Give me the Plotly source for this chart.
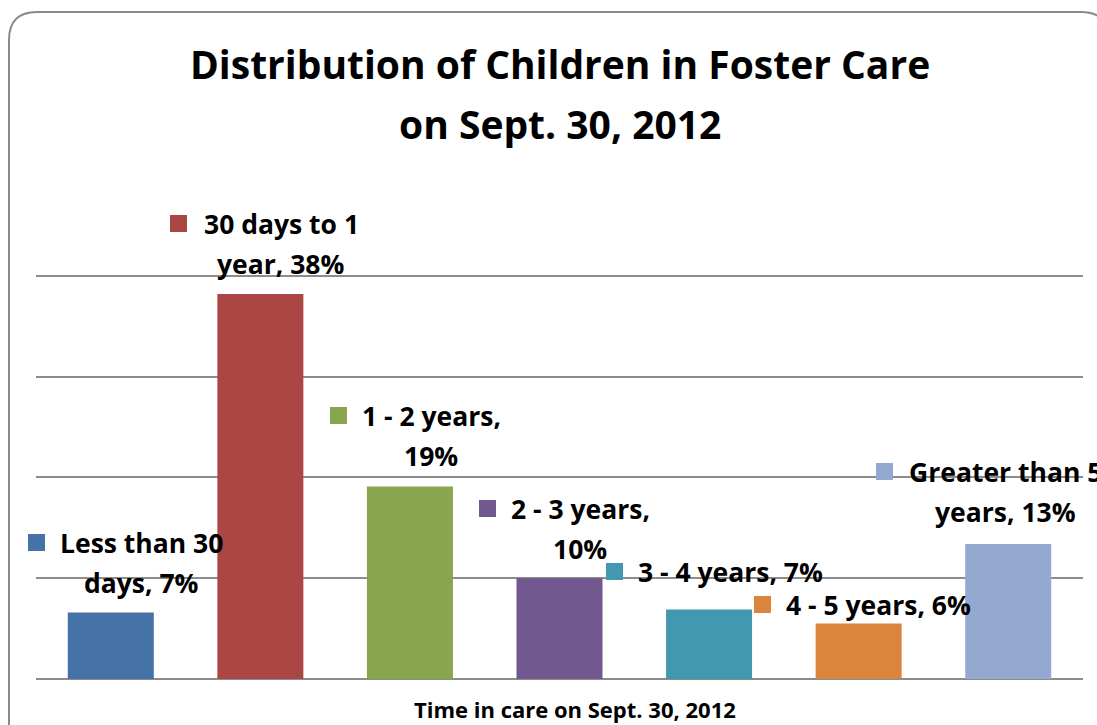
import plotly.graph_objects as go

categories = ["Less than 30 days", "30 days to 1 year", "1 - 2 years", "2 - 3 years",
              "3 - 4 years", "4 - 5 years", "Greater than 5 years"]
values = [6.6, 38.2, 19.1, 10.0, 6.9, 5.5, 13.4]
label_lines = [["Less than 30", "days, 7%"],
               ["30 days to 1", "year, 38%"],
               ["1 - 2 years,", "19%"],
               ["2 - 3 years,", "10%"],
               ["3 - 4 years, 7%"],
               ["4 - 5 years, 6%"],
               ["Greater than 5", "years, 13%"]]
colors = ["#4572A7", "#AA4643", "#89A54E", "#71588F", "#4198AF", "#DB843D", "#93A9CF"]

# window size (page margin removed by post_script below)
W, H = 1097, 725
# plot area in window pixels
PX0, PX1, PY0, PY1 = 36, 1083, 175, 679
L, R, T, B = PX0, W - PX1, PY0, H - PY1
PW, PH = PX1 - PX0, PY1 - PY0

def px(x):
    return (x - PX0) / PW

def py(y):
    return (PY1 - y) / PH

# label placement (window pixels): text centre x, first line centre y, key left x
label_pos = [(141, 543, 28), (281, 224, 170), (431, 416, 330), (580, 509, 479),
             (730, 572, 606), (879, 605, 754), (1005, 472, 876)]
LINE = 40
KEY = 17
FONT = "'Open Sans', Lato, sans-serif"

fig = go.Figure(go.Bar(
    x=categories, y=values, marker_color=colors, marker_line_width=0,
    hoverinfo="x+y", showlegend=False,
))

annotations = []
shapes = []
for lines, (cx, cy, kx), col in zip(label_lines, label_pos, colors):
    for i, t in enumerate(lines):
        annotations.append(dict(
            xref="paper", yref="paper", x=px(cx), y=py(cy + i * LINE),
            text=f"<b>{t}</b>", showarrow=False, xanchor="center", yanchor="middle",
            font=dict(family=FONT, size=26.5, color="#000000"),
        ))
    shapes.append(dict(
        type="rect", xref="paper", yref="paper",
        x0=px(kx), x1=px(kx + KEY), y0=py(cy - 9 + KEY), y1=py(cy - 9),
        fillcolor=col, line=dict(width=0), layer="above",
    ))

# title
for txt, yy in [("Distribution of Children in Foster Care", 64), ("on Sept. 30, 2012", 124)]:
    annotations.append(dict(
        xref="paper", yref="paper", x=px(560), y=py(yy),
        text=f"<b>{txt}</b>", showarrow=False,
        xanchor="center", yanchor="middle",
        font=dict(family=FONT, size=39, color="#000000"),
    ))
# axis title
annotations.append(dict(
    xref="paper", yref="paper", x=px(575), y=py(709),
    text="<b>Time in care on Sept. 30, 2012</b>", showarrow=False,
    xanchor="center", yanchor="middle",
    font=dict(family=FONT, size=22, color="#000000"),
))

# rounded chart border
x0b, y0b, x1b, y1b, r = 9, 12, 1109, 745, 28
path = (f"M {px(x0b)},{py(y1b)} L {px(x0b)},{py(y0b + r)} "
        f"Q {px(x0b)},{py(y0b)} {px(x0b + r)},{py(y0b)} "
        f"L {px(x1b - r)},{py(y0b)} Q {px(x1b)},{py(y0b)} {px(x1b)},{py(y0b + r)} "
        f"L {px(x1b)},{py(y1b)}")
shapes.append(dict(type="path", xref="paper", yref="paper", path=path,
                   line=dict(color="#8a8a8a", width=2), layer="below"))

fig.update_layout(
    width=W, height=H,
    margin=dict(l=L, r=R, t=T, b=B, autoexpand=False),
    paper_bgcolor="white", plot_bgcolor="white",
    bargap=0.425,
    annotations=annotations, shapes=shapes,
    xaxis=dict(showticklabels=False, showgrid=False, showline=False, ticks="",
               fixedrange=True),
    yaxis=dict(range=[0, 50], dtick=10, showticklabels=False, showgrid=True,
               gridcolor="#8c8c8c", gridwidth=2, zeroline=True,
               zerolinecolor="#8c8c8c", zerolinewidth=2, showline=False,
               ticks="", fixedrange=True),
)

fig.write_html(
    "out.html",
    config={"displayModeBar": False},
    post_script="document.body.style.margin='0';document.body.style.overflow='hidden';",
)
